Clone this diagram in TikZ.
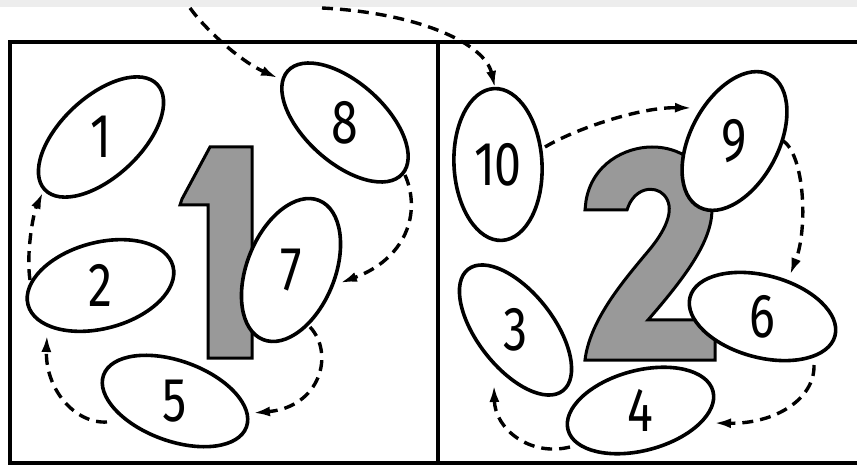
\documentclass[tikz,border=0pt]{standalone}
\usepackage{fontspec}
\setmainfont{Fira Sans}
\newfontfamily\digfont[FakeStretch=0.78]{Fira Sans}
\usetikzlibrary{shapes.geometric,arrows.meta,calc}
\begin{document}
\begin{tikzpicture}[x=1pt,y=1pt,
  ell/.style={draw, ellipse, fill=white, line width=3.6pt, inner sep=0pt, outer sep=0pt},
  lab/.style={font=\digfont\fontsize{62}{62}\selectfont, inner sep=0pt},
  arr/.style={line width=3.4pt, dash pattern=on 11pt off 7pt, -{Latex[length=17pt,width=10pt]}},
  framerule/.style={line width=3.6pt},
  bigdigit/.style={draw, line width=3pt, fill=black!40, line join=miter}]
\useasboundingbox (0,0) rectangle (857,469);
\fill[black!7] (0,462) rectangle (857,469);

% frame
\draw[framerule] (857,427) -- (10,427) -- (10,6) -- (857,6);
\draw[framerule] (438,427) -- (438,6);

% big shaded digits
\path[bigdigit] (210,322) -- (252,322) -- (252,111) -- (208,111) -- (208,264) -- (180,264) -- (182,270) -- cycle;
\path[bigdigit] (585,259) -- (586,268) .. controls (592,305) and (625,322) .. (652,322)
  .. controls (685,322) and (713,300) .. (712,258)
  .. controls (711,228) and (688,195) .. (648,149) -- (715,149) -- (715,109) -- (585,109)
  .. controls (590,150) and (625,190) .. (650,220)
  .. controls (668,242) and (675,262) .. (664,274)
  .. controls (655,284) and (634,282) .. (627,259) -- cycle;

% ellipses
\node[ell, minimum width=154, minimum height=80, rotate=43]  (e1)  at (101,332)   {};
\node[ell, minimum width=154, minimum height=80, rotate=-42] (e8)  at (345,346.5) {};
\node[ell, minimum width=150, minimum height=86, rotate=15]  (e2)  at (100.5,183.5) {};
\node[ell, minimum width=150, minimum height=88, rotate=68]  (e7)  at (291,199)   {};
\node[ell, minimum width=152, minimum height=80, rotate=-20] (e5)  at (175,68)    {};
\node[ell, minimum width=152, minimum height=88, rotate=93]  (e10) at (498,304.5) {};
\node[ell, minimum width=150, minimum height=88, rotate=62]  (e9)  at (734.5,328) {};
\node[ell, minimum width=150, minimum height=82, rotate=-15] (e6)  at (762.5,152.5) {};
\node[ell, minimum width=154, minimum height=76, rotate=-52] (e3)  at (515.5,139) {};
\node[ell, minimum width=150, minimum height=80, rotate=15]  (e4)  at (640.5,58.5) {};

% labels
\node[lab] (t1)  at (e1)  {1};
\node[lab] (t8)  at (e8)  {8};
\node[lab] (t2)  at (e2)  {2};
\node[lab] (t7)  at (e7)  {7};
\node[lab] (t5)  at (e5)  {5};
\node[lab] (t10) at (e10) {10};
\node[lab] (t9)  at (e9)  {9};
\node[lab] (t6)  at (e6)  {6};
\node[lab] (t3)  at (e3)  {3};
\node[lab] (t4)  at (e4)  {4};

% incoming ends
\coordinate (in1) at (190,461);
\coordinate (in2) at (322,461);

% connectors
\draw[arr] (in1) .. controls (205,440) and (240,408) .. ($(e8)+(-67,44.5)$);
\draw[arr] (in2) .. controls (420,456) and (485,425) .. ($(e10)+(-3,76.5)$);
\draw[arr] ($(e8)+(60,-52.5)$) .. controls (422,255) and (405,210) .. ($(e7)+(49,-13)$);
\draw[arr] ($(e7)+(19,-57)$) .. controls (335,115) and (320,62) .. ($(e5)+(78,-12)$);
\draw[arr] ($(e5)+(-68,-21)$) .. controls (75,45) and (45,80) .. ($(e2)+(-53.5,-49.5)$);
\draw[arr] ($(e2)+(-70.5,5.5)$) .. controls (26,215) and (33,255) .. ($(e1)+(-58,-55)$);
\draw[arr] ($(e10)+(47,17.5)$) .. controls (575,340) and (640,362) .. ($(e9)+(-42.5,33)$);
\draw[arr] ($(e9)+(47.5,1)$) .. controls (805,315) and (808,240) .. ($(e6)+(27.5,41.5)$);
\draw[arr] ($(e6)+(51.5,-48.5)$) .. controls (815,70) and (775,45) .. ($(e4)+(73.5,-12.5)$);
\draw[arr] ($(e4)+(-70.5,-36.5)$) .. controls (530,12) and (495,40) .. ($(e3)+(-21.5,-55)$);
\end{tikzpicture}
\end{document}
